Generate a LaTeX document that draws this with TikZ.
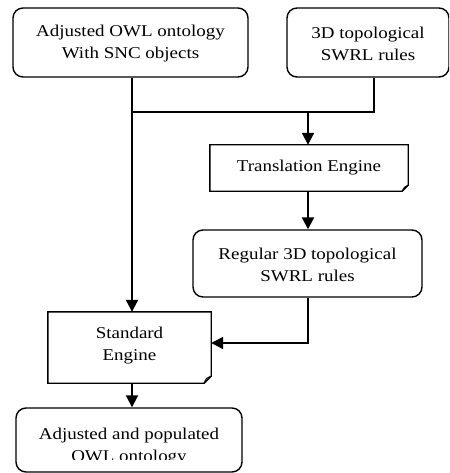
\documentclass[tikz,border=0pt]{standalone}
\usepackage{fontspec}
\setmainfont{Liberation Serif}[FakeStretch=1.15]
\usetikzlibrary{arrows.meta}
\begin{document}
\begin{tikzpicture}[x=1pt,y=-1pt,
  lbl/.style={align=center,font=\fontsize{16.5}{22}\selectfont,inner sep=0pt},
  rbox/.style={draw,line width=1.4pt,rounded corners=10pt},
  conn/.style={line width=2pt,-{Triangle[width=12pt,length=12pt]}},
  wire/.style={line width=2pt}]
\useasboundingbox (0,0) rectangle (449,473);
\clip (0,0) rectangle (449,473);
% boxes
\node[rbox,minimum width=235pt,minimum height=69pt] (owl) at (130.5,42.5) {};
\node[lbl] at ([yshift=-1pt]owl.center) {Adjusted OWL ontology\\With SNC objects};
\node[rbox,minimum width=162pt,minimum height=69pt] (swrl) at (368,42.5) {};
\node[lbl] at ([yshift=-1pt]swrl.center) {3D topological\\SWRL rules};
\node[minimum width=198pt,minimum height=46pt,inner sep=0pt] (trans) at (309,168) {};
\draw[line width=1.4pt] (trans.north west) -- (trans.north east) -- ([yshift=6pt]trans.south east) -- ([xshift=-6pt]trans.south east) -- (trans.south west) -- cycle;
\draw[line width=1pt] ([yshift=6pt]trans.south east) .. controls ([xshift=-4pt,yshift=4pt]trans.south east) .. ([xshift=-6pt]trans.south east);
\node[lbl] at (trans.center) {Translation Engine};
\node[rbox,minimum width=229pt,minimum height=67pt] (reg) at (307.5,263.5) {};
\node[lbl] at ([yshift=-1pt]reg.center) {Regular 3D topological\\SWRL rules};
\node[minimum width=163pt,minimum height=71pt,inner sep=0pt] (std) at (129.5,347.5) {};
\draw[line width=1.4pt] (std.north west) -- (std.north east) -- ([yshift=7pt]std.south east) -- ([xshift=-7pt]std.south east) -- (std.south west) -- cycle;
\draw[line width=1pt] ([yshift=7pt]std.south east) .. controls ([xshift=-5pt,yshift=5pt]std.south east) .. ([xshift=-7pt]std.south east);
\node[lbl] at ([yshift=2pt]std.center) {Standard\\Engine};
\node[rbox,minimum width=226pt,minimum height=64pt] (out) at (129,440) {};
\begin{scope}
\clip (0,0) rectangle (449,459);
\node[lbl] at ([yshift=-7pt]out.center) {Adjusted and populated\\OWL ontology};
\end{scope}
% connectors
\coordinate (j1) at (132,112);
\coordinate (j2) at (374,112);
\coordinate (j3) at (308,112);
\coordinate (j4) at (308,343);
\draw[wire] (owl.south -| j1) -- (j1) -- (j2) -- (swrl.south -| j2);
\draw[conn] (j3) -- (trans.north -| j3);
\draw[conn] (trans.south -| j3) -- (reg.north -| j3);
\draw[conn] (owl.south -| j1) -- (std.north -| j1);
\draw[conn] (reg.south -| j4) -- (j4) -- (std.east |- j4);
\draw[conn] (std.south -| j1) -- (out.north -| j1);
\end{tikzpicture}
\end{document}
